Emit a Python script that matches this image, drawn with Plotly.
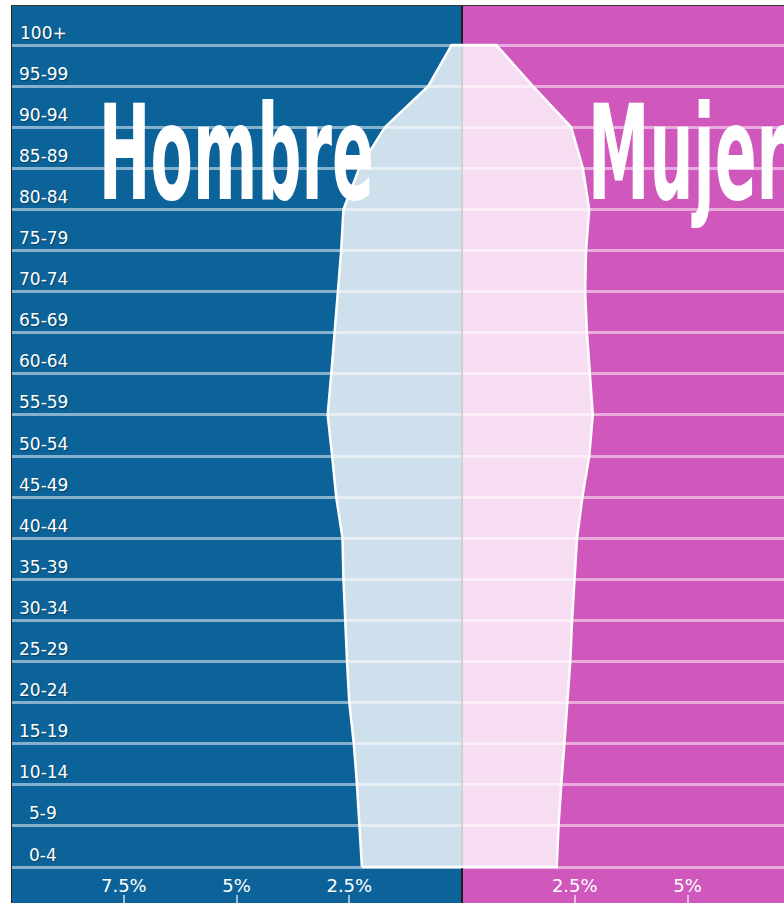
import plotly.graph_objects as go

# ---- data (percent of total population) ----
age_groups = ["0-4", "5-9", "10-14", "15-19", "20-24", "25-29", "30-34", "35-39",
              "40-44", "45-49", "50-54", "55-59", "60-64", "65-69", "70-74",
              "75-79", "80-84", "85-89", "90-94", "95-99", "100+"]
male_pct = [2.22, 2.27, 2.33, 2.40, 2.50, 2.55, 2.59, 2.63, 2.65, 2.79, 2.88,
            2.98, 2.90, 2.83, 2.75, 2.68, 2.63, 2.28, 1.71, 0.75, 0.23]
female_pct = [2.10, 2.14, 2.20, 2.27, 2.34, 2.40, 2.44, 2.49, 2.55, 2.67, 2.82,
              2.90, 2.84, 2.77, 2.73, 2.75, 2.82, 2.68, 2.42, 1.57, 0.76]
tick_vals = [-7.5, -5, -2.5, 2.5, 5, 7.5]
tick_text = ["7.5%", "5%", "2.5%", "2.5%", "5%", "7.5%"]
side_titles = ["Hombre", "Mujer"]
side_title_pos = [-5, 5]

BLUE = "rgb(11,99,153)"
PINK = "rgb(208,87,188)"

idx = list(range(len(age_groups)))
poly_x = [-v for v in male_pct] + female_pct[::-1] + [-male_pct[0]]
poly_y = idx + idx[::-1] + [idx[0]]

fig = go.Figure()
fig.add_trace(go.Scatter(
    x=poly_x, y=poly_y, mode="lines", fill="toself",
    fillcolor="rgba(255,255,255,0.8)",
    line=dict(color="white", width=2.5),
    hoverinfo="skip", showlegend=False,
))

X_RANGE = [-9.98, 7.14]
Y_RANGE = [-0.876, 20.949]

# background halves
fig.add_shape(type="rect", xref="x", yref="paper", x0=X_RANGE[0], x1=0, y0=0, y1=1,
              fillcolor=BLUE, line_width=0, layer="below")
fig.add_shape(type="rect", xref="x", yref="paper", x0=0, x1=X_RANGE[1], y0=0, y1=1,
              fillcolor=PINK, line_width=0, layer="below")

# age labels
for i, lab in zip(idx, age_groups):
    fig.add_annotation(x=0, xref="paper", y=i, yref="y", text=lab, showarrow=False,
                       xanchor="center", yanchor="middle", xshift=31, yshift=12.5,
                       font=dict(family="DejaVu Sans", size=17, color="white",
                                 shadow="1px 1px 1px rgba(0,0,0,0.35)"))

# side titles
for t, xp in zip(side_titles, side_title_pos):
    fig.add_annotation(x=xp, xref="x", y=17.35, yref="y", text=t, showarrow=False,
                       xanchor="center", yanchor="middle",
                       font=dict(family="DejaVu Sans Condensed, sans-serif",
                                 size=88, color="white", weight="bold"))

fig.update_xaxes(range=X_RANGE, showgrid=False, zeroline=True, zerolinecolor="#1b1b1b",
                 zerolinewidth=2, tickvals=tick_vals, ticktext=tick_text,
                 ticks="inside", ticklen=8, tickwidth=2, tickcolor="rgba(255,255,255,0.6)",
                 ticklabelposition="inside",
                 tickfont=dict(family="DejaVu Sans", size=18, color="white"),
                 showline=True, linecolor="#333", linewidth=1, mirror=True, fixedrange=True)
fig.update_yaxes(range=Y_RANGE, tickmode="linear", tick0=0, dtick=1, showticklabels=False,
                 showgrid=True, gridcolor="rgba(255,255,255,0.5)", gridwidth=2.5,
                 zeroline=False, showline=True, linecolor="#222", linewidth=1, fixedrange=True)

fig.update_layout(width=784, height=903, margin=dict(l=12, r=0, t=6, b=0),
                  paper_bgcolor="white", plot_bgcolor=BLUE, showlegend=False)

post = """
document.body.style.margin = '0';
document.body.style.overflow = 'hidden';
var gd = document.getElementById('{plot_id}');
gd.querySelectorAll('text.annotation-text').forEach(function(t){
  var fs = parseFloat(t.style.fontSize || '0');
  if (fs > 50) {
    t.style.transformBox = 'fill-box';
    t.style.transformOrigin = 'center';
    t.style.transform = 'scale(0.78, 1.5)';
  }
});
"""
fig.write_html("out.html", post_script=post, config={"displayModeBar": False})
